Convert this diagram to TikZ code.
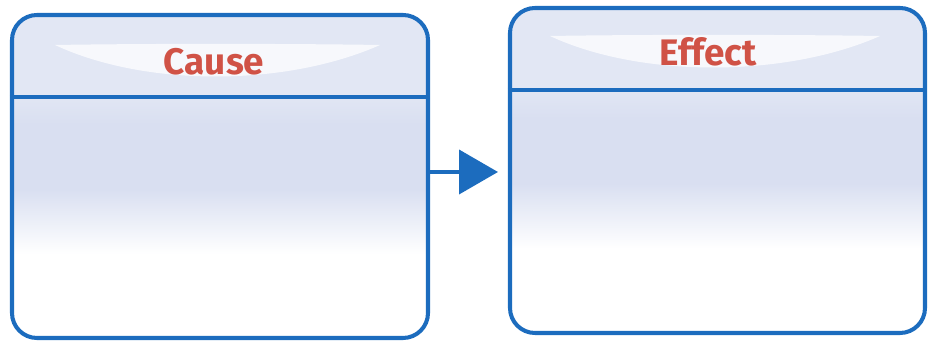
\documentclass[tikz,border=0pt]{standalone}
\usepackage{fontspec}
\setsansfont{Fira Sans}
\usepackage{tikz}
\usetikzlibrary{arrows.meta, calc}

\definecolor{frameblue}{RGB}{28,108,190}
\definecolor{headred}{RGB}{208,82,70}
\definecolor{lav}{RGB}{217,223,241}
\definecolor{lavtop}{RGB}{226,231,244}

% body fades from lavender into white towards the bottom
\pgfdeclareverticalshading{panelfill}{100bp}{
    color(0bp)=(white); color(38bp)=(white); color(48bp)=(lav);
    color(58bp)=(lav); color(63bp)=(lavtop); color(100bp)=(lavtop)}

\begin{document}
\begin{tikzpicture}[
    panel/.style={draw=frameblue, line width=2.3pt, rounded corners=0.5cm,
        shading=panelfill, minimum width=8.3cm, minimum height=6.48cm},
    divider/.style={draw=frameblue, line width=2pt},
    title/.style={text=headred, font=\sffamily\bfseries\fontsize{21}{24}\selectfont},
    swoosh/.style={fill=white, opacity=0.75}]
    \useasboundingbox (0,0) rectangle (18.64,6.82);
    % the two boxes
    \node[panel, minimum width=8.32cm, minimum height=6.46cm] (cause) at (4.40,3.29) {};
    \node[panel, minimum height=6.50cm] (effect) at (14.35,3.41) {};
    % white highlight under the titles
    \path[swoosh] (1.1,5.92) .. controls (2.9,5.95) and (5.7,5.95) .. (7.6,5.92)
        .. controls (5.7,5.08) and (2.9,5.08) .. cycle; % cause
    \path[swoosh] (11.0,6.1) .. controls (12.8,6.13) and (15.7,6.13) .. (17.6,6.1)
        .. controls (15.7,5.26) and (12.8,5.26) .. cycle; % effect
    % header lines
    \draw[divider] (cause.west |- 0,4.88) -- (cause.east |- 0,4.88);
    \draw[divider] (effect.west |- 0,5.02) -- (effect.east |- 0,5.02);
    % titles
    \node[title] (causetitle) at (4.28,5.58) {Cause};
    \node[title] (effecttitle) at (14.16,5.78) {Effect};
    % arrow
    \coordinate (tip) at (9.96,3.38);
    \draw[frameblue, line width=2.3pt, -{Triangle[length=0.78cm, width=0.88cm]}]
        (cause.east |- tip) -- (tip);
\end{tikzpicture}
\end{document}
